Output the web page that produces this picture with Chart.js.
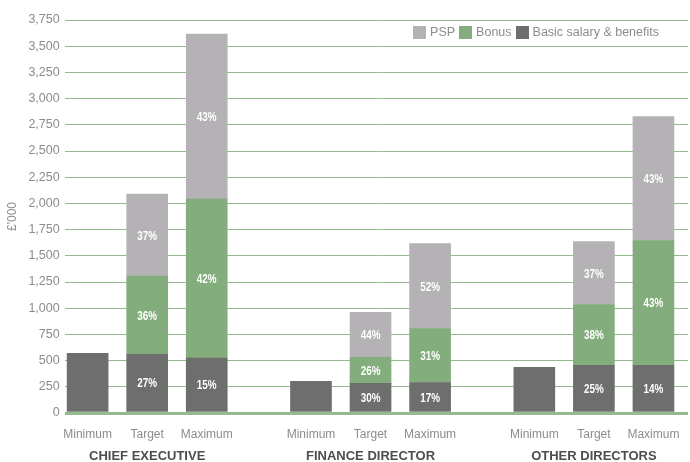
<!DOCTYPE html>
<html>
<head>
<meta charset="utf-8">
<script src="https://cdn.jsdelivr.net/npm/chart.js@4/dist/chart.umd.min.js"></script>
<style>
  html, body { margin: 0; padding: 0; background: #ffffff; }
  #wrap { position: relative; width: 690px; height: 462px; }
  #legend { position: absolute; top: 26px; right: 31px; display: flex; align-items: flex-end;
            font-family: "Liberation Sans", Arial, sans-serif; font-size: 12.5px; color: #8c8c8c; }
  #legend .item { display: flex; align-items: flex-end; margin-left: 4px; }
  #legend .box { width: 13px; height: 13px; margin-right: 4px; }
  #legend .txt { line-height: 13px; }
</style>
</head>
<body>
<div id="wrap">
  <canvas id="c" width="690" height="462"></canvas>
  <div id="legend"></div>
</div>
<script>
// ---- data ----
const categories = ["Minimum", "Target", "Maximum", "Minimum", "Target", "Maximum", "Minimum", "Target", "Maximum"];
const groups = ["CHIEF EXECUTIVE", "FINANCE DIRECTOR", "OTHER DIRECTORS"];
const basicSalary = [570, 560, 525, 302, 283, 291, 435, 456, 456];
const bonus = [null, 747, 1517, null, 248, 515, null, 579, 1190];
const psp = [null, 783, 1574, null, 429, 811, null, 601, 1183];
const basicPct = ["", "27%", "15%", "", "30%", "17%", "", "25%", "14%"];
const bonusPct = ["", "36%", "42%", "", "26%", "31%", "", "38%", "43%"];
const pspPct = ["", "37%", "43%", "", "44%", "52%", "", "37%", "43%"];
const yTicks = [0, 250, 500, 750, 1000, 1250, 1500, 1750, 2000, 2250, 2500, 2750, 3000, 3250, 3500, 3750];

// ---- layout (slot positions on the linear category axis) ----
const slotPos = [0, 1, 2, 3.75, 4.75, 5.75, 7.5, 8.5, 9.5];
const groupPos = [1, 4.75, 8.5];

const COL_PSP = "#b4b2b4", COL_BONUS = "#84ad7d", COL_BASIC = "#6e6e6e";
const toPts = arr => arr.map((v, i) => ({ x: slotPos[i], y: v }));

const pctPlugin = {
  id: "pctLabels",
  afterDatasetsDraw(chart) {
    const ctx = chart.ctx;
    const sets = [basicPct, bonusPct, pspPct];
    chart.data.datasets.forEach((ds, d) => {
      const meta = chart.getDatasetMeta(d);
      meta.data.forEach((bar, i) => {
        const t = sets[d][i];
        if (!t) return;
        const p = bar.getProps(["x", "y", "base"], true);
        ctx.save();
        ctx.fillStyle = "#ffffff";
        ctx.font = "bold 13px 'Liberation Sans', Arial, sans-serif";
        ctx.textAlign = "center";
        ctx.textBaseline = "middle";
        ctx.translate(p.x, (p.y + p.base) / 2 + 1);
        ctx.scale(0.76, 1);
        ctx.fillText(t, 0, 0);
        ctx.restore();
      });
    });
  }
};

const noSidePad = axis => { axis.paddingLeft = 0; axis.paddingRight = 0; };

const chart = new Chart(document.getElementById("c"), {
  type: "bar",
  data: {
    datasets: [
      { label: "Basic salary & benefits", data: toPts(basicSalary), backgroundColor: COL_BASIC },
      { label: "Bonus", data: toPts(bonus), backgroundColor: COL_BONUS },
      { label: "PSP", data: toPts(psp), backgroundColor: COL_PSP }
    ]
  },
  options: {
    responsive: false,
    animation: false,
    barThickness: 41,
    layout: { padding: { left: 5, right: 2, top: 20, bottom: 0 } },
    plugins: { legend: { display: false }, tooltip: { enabled: false } },
    scales: {
      x: {
        type: "linear", stacked: true, min: -0.385, max: 10.08, offset: false,
        grid: { display: false, drawTicks: false }, border: { display: false },
        afterBuildTicks: axis => { axis.ticks = slotPos.map(v => ({ value: v })); },
        afterFit: axis => { noSidePad(axis); axis.height = 28; },
        ticks: {
          autoSkip: false, maxRotation: 0, padding: 14, color: "#8c8c8c",
          font: { family: "'Liberation Sans', Arial, sans-serif", size: 12 },
          callback: (v, i) => categories[i]
        }
      },
      x2: {
        type: "linear", position: "bottom", min: -0.385, max: 10.08, offset: false,
        grid: { display: false, drawTicks: false }, border: { display: false },
        afterBuildTicks: axis => { axis.ticks = groupPos.map(v => ({ value: v })); },
        afterFit: axis => { noSidePad(axis); axis.height = 21; },
        ticks: {
          autoSkip: false, maxRotation: 0, padding: 8, color: "#4d4d4d",
          font: { family: "'Liberation Sans', Arial, sans-serif", size: 13, weight: "bold" },
          callback: (v, i) => groups[i]
        }
      },
      y: {
        stacked: true, min: 0, max: 3750,
        border: { display: false },
        afterBuildTicks: axis => { axis.ticks = yTicks.map(v => ({ value: v })); },
        grid: {
          drawTicks: false,
          color: "#93bb8d",
          lineWidth: c => (c.tick && c.tick.value === 0 ? 3 : 1)
        },
        ticks: {
          padding: 5, color: "#8c8c8c",
          font: { family: "'Liberation Sans', Arial, sans-serif", size: 12.5 },
          callback: v => v.toLocaleString("en-US")
        },
        title: {
          display: true, text: "£'000", color: "#8c8c8c",
          font: { family: "'Liberation Sans', Arial, sans-serif", size: 12 },
          padding: { top: 0, bottom: 4 }
        }
      }
    }
  },
  plugins: [pctPlugin]
});

// HTML legend built from the chart's datasets (PSP, Bonus, Basic order)
const leg = document.getElementById("legend");
chart.data.datasets.slice().reverse().forEach(ds => {
  const item = document.createElement("div");
  item.className = "item";
  const box = document.createElement("span");
  box.className = "box";
  box.style.background = ds.backgroundColor;
  const txt = document.createElement("span");
  txt.className = "txt";
  txt.textContent = ds.label;
  item.appendChild(box);
  item.appendChild(txt);
  leg.appendChild(item);
});
</script>
</body>
</html>
